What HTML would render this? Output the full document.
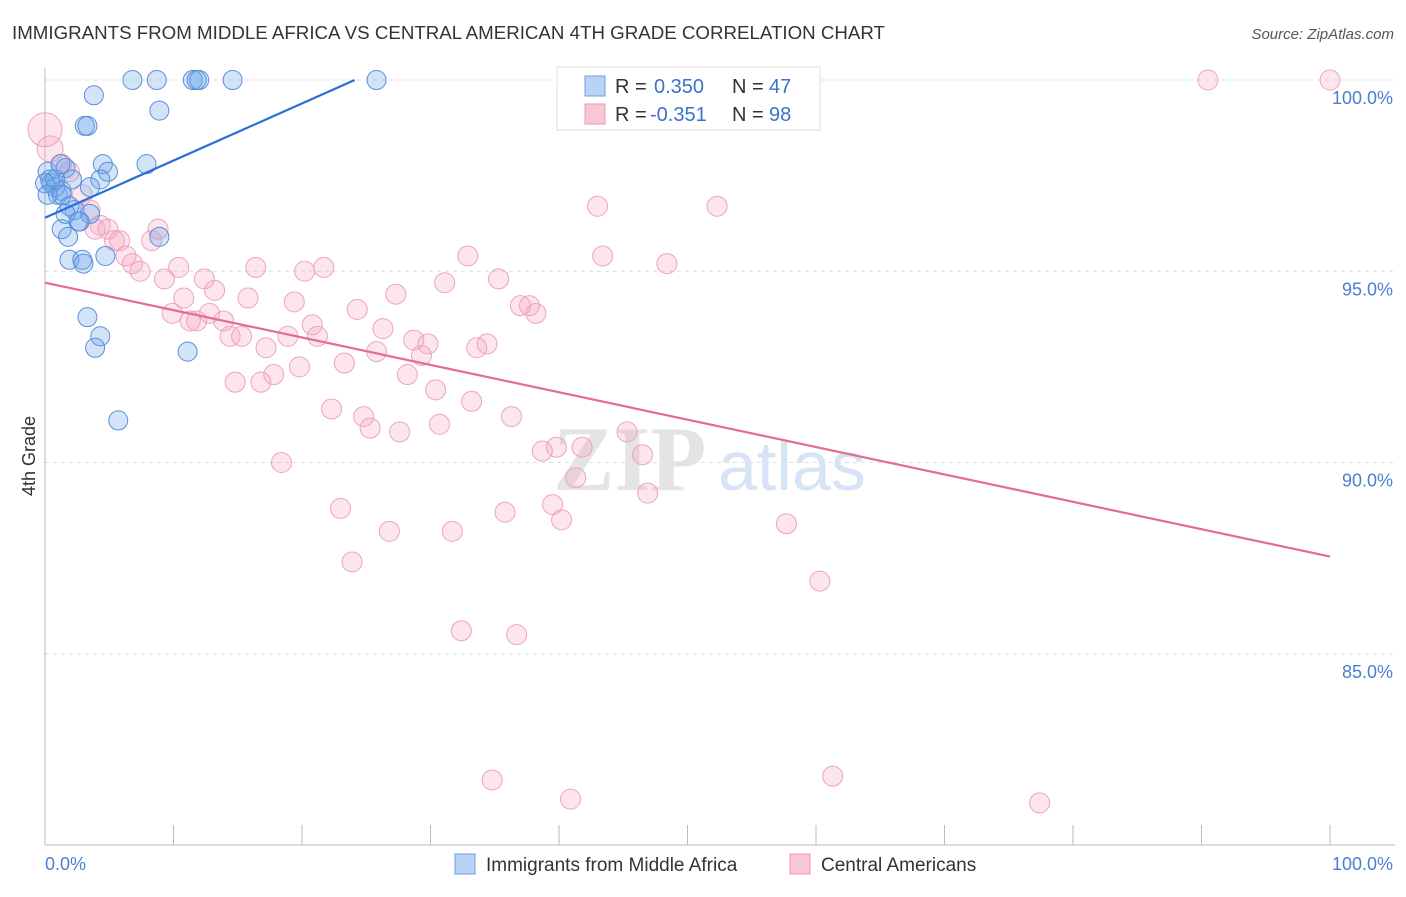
<!DOCTYPE html>
<html><head><meta charset="utf-8"><style>
body{margin:0;background:#fff;font-family:"Liberation Sans",sans-serif}
</style></head><body>
<svg width="1406" height="892" viewBox="0 0 1406 892">
<text x="12" y="39" font-size="18" fill="#333" textLength="873" lengthAdjust="spacingAndGlyphs">IMMIGRANTS FROM MIDDLE AFRICA VS CENTRAL AMERICAN 4TH GRADE CORRELATION CHART</text>
<text x="1394" y="39" font-size="15" fill="#555" text-anchor="end" font-style="italic">Source: ZipAtlas.com</text>
<g id="grid"></g>
<text x="553" y="490" font-size="92" fill="#e4e4e4" font-family="Liberation Serif" font-weight="bold">ZIP</text>
<text x="718" y="490" font-size="70" fill="#d6e4f5">atlas</text>
<g id="pts"></g>
<g id="lines"></g>
<text x="35" y="456" font-size="18" fill="#333" transform="rotate(-90 35 456)" text-anchor="middle">4th Grade</text>
<text x="45" y="870" font-size="18" fill="#4a7fd0">0.0%</text>
<text x="1393" y="870" font-size="18" fill="#4a7fd0" text-anchor="end">100.0%</text>
<g>
<rect x="557" y="67" width="263" height="63" fill="#fff" stroke="#ddd"/>
<rect x="585" y="76" width="20" height="20" fill="#b8d3f5" stroke="#6f9fdf"/>
<rect x="585" y="104" width="20" height="20" fill="#f9c6d6" stroke="#e99ab5"/>
<text x="615" y="93" font-size="20" fill="#333">R =</text>
<text x="654" y="93" font-size="20" fill="#3a72cc">0.350</text>
<text x="732" y="93" font-size="20" fill="#333">N =</text>
<text x="769" y="93" font-size="20" fill="#3a72cc">47</text>
<text x="615" y="121" font-size="20" fill="#333">R =</text>
<text x="650" y="121" font-size="20" fill="#3a72cc">-0.351</text>
<text x="732" y="121" font-size="20" fill="#333">N =</text>
<text x="769" y="121" font-size="20" fill="#3a72cc">98</text>
</g>
<g>
<rect x="455" y="854" width="20" height="20" fill="#b8d3f5" stroke="#6f9fdf"/>
<text x="486" y="871" font-size="19" fill="#333">Immigrants from Middle Africa</text>
<rect x="790" y="854" width="20" height="20" fill="#f9c6d6" stroke="#e99ab5"/>
<text x="821" y="871" font-size="19" fill="#333">Central Americans</text>
</g>
</svg>
<script>
const yTicks=[100,95,90,85];
const yTickLabels=["100.0%","95.0%","90.0%","85.0%"];
const xTicks=[0,10,20,30,40,50,60,70,80,90,100];
const blueX=[6.8,8.7,11.5,11.8,12.0,14.6,25.8,3.8,8.9,3.1,3.3,4.5,7.9,4.9,4.3,0.2,0.5,0.8,1.0,1.3,1.6,2.1,3.5,1.3,2.3,3.5,2.6,2.7,1.3,1.8,8.9,1.9,2.9,3.0,4.7,3.3,4.3,3.9,11.1,5.7,0.4,0.8,1.2,0,0.2,1.9,1.6];
const blueY=[100,100,100,100,100,100,100,99.6,99.2,98.8,98.8,97.8,97.8,97.6,97.4,97.6,97.3,97.2,97.0,97.1,97.7,97.4,97.2,97.0,96.6,96.5,96.3,96.3,96.1,95.9,95.9,95.3,95.3,95.2,95.4,93.8,93.3,93.0,92.9,91.1,97.4,97.4,97.8,97.3,97.0,96.7,96.5];
const pinkX=[0,0.4,1.3,1.9,2.9,3.5,3.9,4.3,4.9,5.4,5.8,6.3,6.8,7.4,8.3,8.8,9.3,9.9,10.4,10.8,11.3,11.8,12.4,12.8,13.2,13.9,14.4,14.8,15.3,15.8,16.4,16.8,17.2,17.8,18.4,18.9,19.4,19.8,20.2,20.8,21.2,21.7,22.3,23.0,23.3,23.9,24.3,24.8,25.3,25.8,26.3,26.8,27.3,27.6,28.2,28.7,29.3,29.8,30.4,30.7,31.1,31.7,32.4,32.9,33.2,33.6,34.4,34.8,35.3,35.8,36.3,36.7,37.0,37.7,38.2,38.7,39.5,39.8,40.2,40.9,41.3,41.8,43.0,43.4,45.3,46.5,46.9,48.4,52.3,57.7,60.3,61.3,77.4,90.5,100];
const pinkY=[98.7,98.2,97.8,97.6,97.0,96.6,96.1,96.2,96.1,95.8,95.8,95.4,95.2,95.0,95.8,96.1,94.8,93.9,95.1,94.3,93.7,93.7,94.8,93.9,94.5,93.7,93.3,92.1,93.3,94.3,95.1,92.1,93.0,92.3,90.0,93.3,94.2,92.5,95.0,93.6,93.3,95.1,91.4,88.8,92.6,87.4,94.0,91.2,90.9,92.9,93.5,88.2,94.4,90.8,92.3,93.2,92.8,93.1,91.9,91.0,94.7,88.2,85.6,95.4,91.6,93.0,93.1,81.7,94.8,88.7,91.2,85.5,94.1,94.1,93.9,90.3,88.9,90.4,88.5,81.2,89.6,90.4,96.7,95.4,90.8,90.2,89.2,95.2,96.7,88.4,86.9,81.8,81.1,100,100];
const blueLine=[[0,96.4],[24.1,100]];
const pinkLine=[[0,94.7],[100,87.54]];
const NS="http://www.w3.org/2000/svg";
const X=v=>45+v*12.85, Y=v=>845-(v-80)*38.25;
function mk(t,a,p){const e=document.createElementNS(NS,t);for(const k in a)e.setAttribute(k,a[k]);p.appendChild(e);return e;}
const grid=document.getElementById('grid');
yTicks.forEach((t,i)=>{
 const l=mk('line',{x1:45,x2:1395,y1:Y(t),y2:Y(t),stroke:'#ddd','stroke-dasharray':'4,4'},grid);
 
 
 const tx=mk('text',{x:1393,y:Y(t)+24,'font-size':18,fill:'#4a7fd0','text-anchor':'end'},grid);
 tx.textContent=yTickLabels[i];
 
 
});
const ax=mk('line',{x1:45,x2:45,y1:68,y2:845,stroke:'#bbb'},grid);


const bx=mk('line',{x1:45,x2:1395,y1:845,y2:845,stroke:'#bbb'},grid);


xTicks.forEach(t=>{
 const l=mk('line',{x1:X(t),x2:X(t),y1:825,y2:845,stroke:'#bbb'},grid);
 
 
});
const pts=document.getElementById('pts');
pinkX.forEach((v,i)=>{
 const r=i==0?17:(i==1?13:10);
 const c=mk('circle',{cx:X(v),cy:Y(pinkY[i]),r:r,fill:'rgba(244,160,190,0.28)',stroke:'#eea3bd','stroke-width':1},pts);
 
 
});
blueX.forEach((v,i)=>{
 const c=mk('circle',{cx:X(v),cy:Y(blueY[i]),r:9.5,fill:'rgba(110,165,235,0.3)',stroke:'#5a8fda','stroke-width':1},pts);
 
 
});
const lines=document.getElementById('lines');
const bl=mk('line',{x1:X(blueLine[0][0]),y1:Y(blueLine[0][1]),x2:X(blueLine[1][0]),y2:Y(blueLine[1][1]),stroke:'#2a6fd6','stroke-width':2.2},lines);


const pl=mk('line',{x1:X(pinkLine[0][0]),y1:Y(pinkLine[0][1]),x2:X(pinkLine[1][0]),y2:Y(pinkLine[1][1]),stroke:'#e56a98','stroke-width':2.2},lines);


</script>
</body></html>
